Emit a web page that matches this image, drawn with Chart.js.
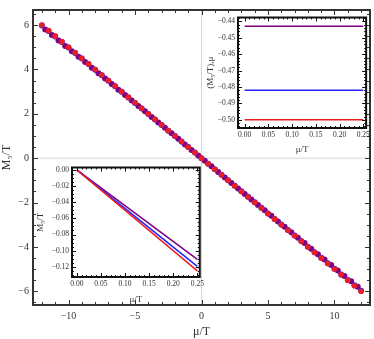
<!doctype html>
<html>
<head>
    <meta charset="UTF-8"/>
    <title>Chart</title>
    <style type="text/css">
        body{ margin:0; background:#fff; }
        .wrap{ position:relative; width:374px; height:339px; }
        .wrap canvas{ position:absolute; }
        #mainChart{ left:0; top:0; }
        #insetLow{ left:35px; top:160px; }
        #insetHigh{ left:205px; top:10px; }
    </style>
</head>
<body>
    <div class="wrap">
        <canvas id="mainChart" width="374" height="339"></canvas>
        <canvas id="insetLow" width="172" height="145"></canvas>
        <canvas id="insetHigh" width="168" height="145"></canvas>
    </div>

    <script src="https://cdn.jsdelivr.net/npm/chart.js"></script>

    <script>
        // main plot: M5/T vs mu/T
        const muA = [-12,-11.5,-11,-10.5,-10,-9.5,-9,-8.5,-8,-7.5,-7,-6.5,-6,-5.5,-5,-4.5,-4,-3.5,-3,-2.5,-2,-1.5,-1,-0.5,0,0.5,1,1.5,2,2.5,3,3.5,4,4.5,5,5.5,6,6.5,7,7.5,8,8.5,9,9.5,10,10.5,11,11.5,12];
        const redMain = [6,5.75,5.5,5.25,5,4.75,4.5,4.25,4,3.75,3.5,3.25,3,2.75,2.5,2.25,2,1.75,1.5,1.25,1,0.75,0.5,0.25,0,-0.25,-0.5,-0.75,-1,-1.25,-1.5,-1.75,-2,-2.25,-2.5,-2.75,-3,-3.25,-3.5,-3.75,-4,-4.25,-4.5,-4.75,-5,-5.25,-5.5,-5.75,-6];
        const blueMain = [5.98,5.73,5.49,5.24,4.99,4.74,4.49,4.24,3.99,3.74,3.49,3.24,2.99,2.74,2.49,2.24,1.99,1.74,1.49,1.24,1,0.75,0.5,0.25,0,-0.25,-0.5,-0.75,-1,-1.24,-1.49,-1.74,-1.99,-2.24,-2.49,-2.74,-2.99,-3.24,-3.49,-3.74,-3.99,-4.24,-4.49,-4.74,-4.99,-5.24,-5.49,-5.73,-5.98];
        const muB = [-11.75,-11.25,-10.75,-10.25,-9.75,-9.25,-8.75,-8.25,-7.75,-7.25,-6.75,-6.25,-5.75,-5.25,-4.75,-4.25,-3.75,-3.25,-2.75,-2.25,-1.75,-1.25,-0.75,-0.25,0.25,0.75,1.25,1.75,2.25,2.75,3.25,3.75,4.25,4.75,5.25,5.75,6.25,6.75,7.25,7.75,8.25,8.75,9.25,9.75,10.25,10.75,11.25,11.75];
        const purpleMain = [5.8,5.55,5.31,5.06,4.82,4.57,4.33,4.08,3.83,3.59,3.34,3.09,2.85,2.6,2.35,2.11,1.86,1.61,1.37,1.12,0.87,0.62,0.37,0.12,-0.12,-0.37,-0.62,-0.87,-1.12,-1.37,-1.61,-1.86,-2.11,-2.35,-2.6,-2.85,-3.09,-3.34,-3.59,-3.83,-4.08,-4.33,-4.57,-4.82,-5.06,-5.31,-5.55,-5.8];
        const mainXTicks = [-10,-5,0,5,10];
        const mainYTicks = [-6,-4,-2,0,2,4,6];

        // lower-left inset: M5/T for small mu/T
        const muSmall = [0, 0.25];
        const redLow = [0, -0.125];
        const blueLow = [0, -0.1195];
        const purpleLow = [0, -0.1108];
        const lowXTicks = [0,0.05,0.1,0.15,0.2,0.25];
        const lowYTicks = [0,-0.02,-0.04,-0.06,-0.08,-0.1,-0.12];

        // upper-right inset: derivative w.r.t. mu
        const redHigh = [-0.5, -0.5];
        const blueHigh = [-0.482, -0.482];
        const purpleHigh = [-0.443, -0.443];
        const highXTicks = [0,0.05,0.1,0.15,0.2,0.25];
        const highYTicks = [-0.44,-0.45,-0.46,-0.47,-0.48,-0.49,-0.5];

        const RED = 'rgb(235,30,35)';
        const BLUE = 'rgb(35,35,255)';
        const PURPLE = 'rgb(128,0,128)';
        const SERIF = "'Liberation Serif', 'DejaVu Serif', serif";

        function pts(xs, ys) {
            return xs.map((x, i) => ({x: x, y: ys[i]}));
        }

        function fmt(d) {
            return v => (v < 0 ? '\u2212' : '') + Math.abs(v).toFixed(d);
        }

        // frame with inward ticks (Mathematica style)
        const framePlugin = {
            id: 'frame',
            afterDatasetsDraw(chart, args, opts) {
                const ctx = chart.ctx;
                const a = chart.chartArea;
                const xs = chart.scales.x, ys = chart.scales.y;
                ctx.save();
                ctx.strokeStyle = opts.color;
                ctx.lineWidth = 1;
                const tick = (vals, len) => {
                    vals.forEach(v => {
                        const px = Math.round(xs.getPixelForValue(v)) + 0.5;
                        if (px < a.left || px > a.right) return;
                        ctx.beginPath();
                        ctx.moveTo(px, a.bottom); ctx.lineTo(px, a.bottom - len);
                        ctx.moveTo(px, a.top); ctx.lineTo(px, a.top + len);
                        ctx.stroke();
                    });
                };
                const tickY = (vals, len) => {
                    vals.forEach(v => {
                        const py = Math.round(ys.getPixelForValue(v)) + 0.5;
                        if (py < a.top || py > a.bottom) return;
                        ctx.beginPath();
                        ctx.moveTo(a.left, py); ctx.lineTo(a.left + len, py);
                        ctx.moveTo(a.right, py); ctx.lineTo(a.right - len, py);
                        ctx.stroke();
                    });
                };
                tick(opts.xMajor, opts.major); tick(opts.xMinor, opts.minor);
                tickY(opts.yMajor, opts.major); tickY(opts.yMinor, opts.minor);
                ctx.lineWidth = opts.width;
                ctx.strokeRect(a.left, a.top, a.right - a.left, a.bottom - a.top);
                ctx.restore();
            }
        };

        const zeroLines = {
            id: 'zeroLines',
            beforeDatasetsDraw(chart) {
                const ctx = chart.ctx;
                const a = chart.chartArea;
                const x0 = chart.scales.x.getPixelForValue(0);
                const y0 = chart.scales.y.getPixelForValue(0);
                ctx.save();
                ctx.strokeStyle = '#d6d6d6';
                ctx.lineWidth = 1;
                ctx.beginPath();
                ctx.moveTo(x0, a.top); ctx.lineTo(x0, a.bottom);
                ctx.moveTo(a.left, y0); ctx.lineTo(a.right, y0);
                ctx.stroke();
                ctx.restore();
            }
        };

        function range(from, to, step) {
            // minor tick positions only
            const out = [];
            const n = Math.round((to - from) / step);
            for (let i = 0; i <= n; i++) out.push(+(from + i * step).toFixed(6));
            return out;
        }

        function axes(o) {
            return {
                x: {
                    type: 'linear', min: o.xmin, max: o.xmax,
                    afterBuildTicks: s => { s.ticks = o.xt.map(v => ({value: v})); },
                    afterFit: s => { s.height = o.xh; },
                    grid: {display: false, drawTicks: false},
                    border: {display: false},
                    ticks: {autoSkip: false, maxRotation: 0, padding: o.xpad, color: '#333',
                        font: {family: SERIF, size: o.fs}, callback: fmt(o.xd)},
                    title: {display: true, text: 'μ/T', color: '#333', padding: {top: o.xtp, bottom: 0},
                        font: {family: SERIF, size: o.tfs}}
                },
                y: {
                    type: 'linear', min: o.ymin, max: o.ymax,
                    afterBuildTicks: s => { s.ticks = o.yt.map(v => ({value: v})); },
                    afterFit: s => { s.width = o.yw; },
                    grid: {display: false, drawTicks: false},
                    border: {display: false},
                    ticks: {autoSkip: false, padding: o.ypad, color: '#333',
                        font: {family: SERIF, size: o.fs}, callback: fmt(o.yd)},
                    title: {display: true, text: o.ytitle, color: '#333', padding: {top: 0, bottom: o.ytp},
                        font: {family: SERIF, size: o.tfs}}
                }
            };
        }

        new Chart(document.getElementById('mainChart'), {
            type: 'scatter',
            data: {
                datasets: [
                    {data: pts(muA, redMain), backgroundColor: RED, pointRadius: 2.8, borderWidth: 0},
                    {data: pts(muA, blueMain), backgroundColor: BLUE, pointRadius: 3, borderWidth: 0},
                    {data: pts(muB, purpleMain), backgroundColor: PURPLE, pointRadius: 3, borderWidth: 0}
                ]
            },
            options: {
                responsive: false, animation: false,
                layout: {padding: {top: 1, right: 2, left: 0, bottom: 0}},
                plugins: {
                    legend: {display: false}, tooltip: {enabled: false},
                    frame: {color: '#333', width: 2, major: 5, minor: 3,
                        xMajor: mainXTicks, xMinor: range(-12, 12, 1),
                        yMajor: mainYTicks, yMinor: range(-6.5, 6.5, 0.5)}
                },
                scales: axes({xmin: -12.67, xmax: 12.67, ymin: -6.62, ymax: 6.68,
                    xt: mainXTicks, yt: mainYTicks, xh: 34, yw: 33, xd: 0, yd: 0,
                    fs: 10, tfs: 12, xpad: 5, ypad: 4, xtp: 3, ytp: 2, ytitle: 'M₅/T'})
            },
            plugins: [zeroLines, framePlugin]
        });

        new Chart(document.getElementById('insetLow'), {
            type: 'line',
            data: {
                datasets: [
                    {data: pts(muSmall, redLow), borderColor: RED, borderWidth: 1.5, pointRadius: 0},
                    {data: pts(muSmall, blueLow), borderColor: BLUE, borderWidth: 1.5, pointRadius: 0},
                    {data: pts(muSmall, purpleLow), borderColor: PURPLE, borderWidth: 1.5, pointRadius: 0}
                ]
            },
            options: {
                responsive: false, animation: false,
                layout: {padding: {top: 4, right: 5, left: 0, bottom: 0}},
                plugins: {
                    legend: {display: false}, tooltip: {enabled: false},
                    frame: {color: '#111', width: 2, major: 4, minor: 2,
                        xMajor: lowXTicks, xMinor: range(0, 0.25, 0.01),
                        yMajor: lowYTicks, yMinor: range(-0.13, 0, 0.005)}
                },
                scales: axes({xmin: -0.01, xmax: 0.255, ymin: -0.1326, ymax: 0.003,
                    xt: lowXTicks, yt: lowYTicks, xh: 28, yw: 37, xd: 2, yd: 2,
                    fs: 7.5, tfs: 9, xpad: 3, ypad: 3, xtp: 1, ytp: 0, ytitle: 'M₅/T'})
            },
            plugins: [framePlugin]
        });

        new Chart(document.getElementById('insetHigh'), {
            type: 'line',
            data: {
                datasets: [
                    {data: pts(muSmall, redHigh), borderColor: RED, borderWidth: 1.5, pointRadius: 0},
                    {data: pts(muSmall, blueHigh), borderColor: BLUE, borderWidth: 1.5, pointRadius: 0},
                    {data: pts(muSmall, purpleHigh), borderColor: PURPLE, borderWidth: 1.5, pointRadius: 0}
                ]
            },
            options: {
                responsive: false, animation: false,
                layout: {padding: {top: 6, right: 6, left: 0, bottom: 0}},
                plugins: {
                    legend: {display: false}, tooltip: {enabled: false},
                    frame: {color: '#111', width: 2, major: 4, minor: 2,
                        xMajor: highXTicks, xMinor: range(0, 0.25, 0.01),
                        yMajor: highYTicks, yMinor: range(-0.504, -0.438, 0.002)}
                },
                scales: axes({xmin: -0.014, xmax: 0.256, ymin: -0.505, ymax: -0.4376,
                    xt: highXTicks, yt: highYTicks, xh: 27, yw: 33, xd: 2, yd: 2,
                    fs: 7.5, tfs: 9, xpad: 3, ypad: 3, xtp: 1, ytp: 0, ytitle: '(M₅/T),μ'})
            },
            plugins: [framePlugin]
        });
    </script>
</body>
</html>
